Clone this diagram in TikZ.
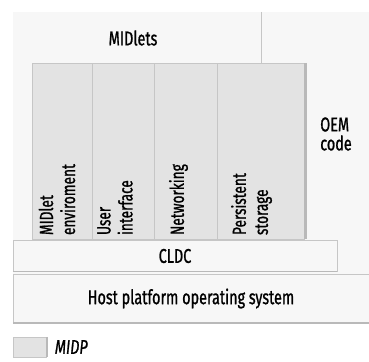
\documentclass[tikz,border=0pt]{standalone}
\usepackage{fontspec}
\setmainfont[FakeStretch=0.72,FakeBold=1]{Fira Sans}
\usetikzlibrary{positioning}

\begin{document}
\begin{tikzpicture}[x=1pt,y=-1pt,
	layer/.style={draw=gray!45,fill=gray!6,inner sep=0pt},
	midp/.style={draw=gray!45,fill=gray!22,inner sep=0pt,minimum height=176pt},
	shade/.style={gray!55,line width=2.5pt},
	lbl/.style={font=\fontsize{20}{20}\selectfont,inner sep=0pt},
	vlbl/.style={font=\fontsize{19}{22}\selectfont,inner sep=0pt,rotate=90,anchor=west,align=left}
	]

	\useasboundingbox (0,0) rectangle (369,361);
	\fill[gray!6] (13,12) rectangle (369,274);
	\draw[gray!45] (261,12) -- (261,63);

	\node[lbl] (midlets) at (133,38) {MIDlets};
	\node[lbl,align=left,font=\fontsize{20}{19}\selectfont] (oem) at (336,134) {OEM\\code};

	\node[midp,minimum width=60pt] (c1) at (62,151) {};
	\node[midp,minimum width=62pt] (c2) at (123,151) {};
	\node[midp,minimum width=63pt] (c3) at (185.5,151) {};
	\node[midp,minimum width=87pt] (c4) at (260.5,151) {};
	\draw[shade] ([xshift=1.2pt]c4.north east) -- ([xshift=1.2pt]c4.south east);

	\node[vlbl] (t1) at ([xshift=-5pt,yshift=4pt]c1.south) {MIDlet\\enviroment};
	\node[vlbl] (t2) at ([xshift=-8pt,yshift=4pt]c2.south) {User\\interface};
	\node[vlbl] (t3) at ([xshift=-7pt,yshift=4pt]c3.south) {Networking};
	\node[vlbl] (t4) at ([xshift=-9pt,yshift=4pt]c4.south) {Persistent\\storage};

	\node[layer,minimum width=324pt,minimum height=31pt,label={[lbl]center:CLDC}] (cldc) at (175,256) {};
	\draw[shade,line width=1.5pt] (cldc.south west) -- (cldc.south east);

	\node[layer,minimum width=356pt,minimum height=49pt,label={[lbl]center:Host platform operating system}] (host) at (191,298.5) {};
	\draw[shade] (host.south west) -- (host.south east);

	\node[midp,minimum width=33pt,minimum height=20pt] (key) at (30,347) {};
	\draw[shade,line width=2pt] (key.north east) -- (key.south east);
	\node[lbl,font=\fontsize{20}{20}\selectfont\itshape,right=8pt of key] (keytext) {MIDP};

\end{tikzpicture}
\end{document}
